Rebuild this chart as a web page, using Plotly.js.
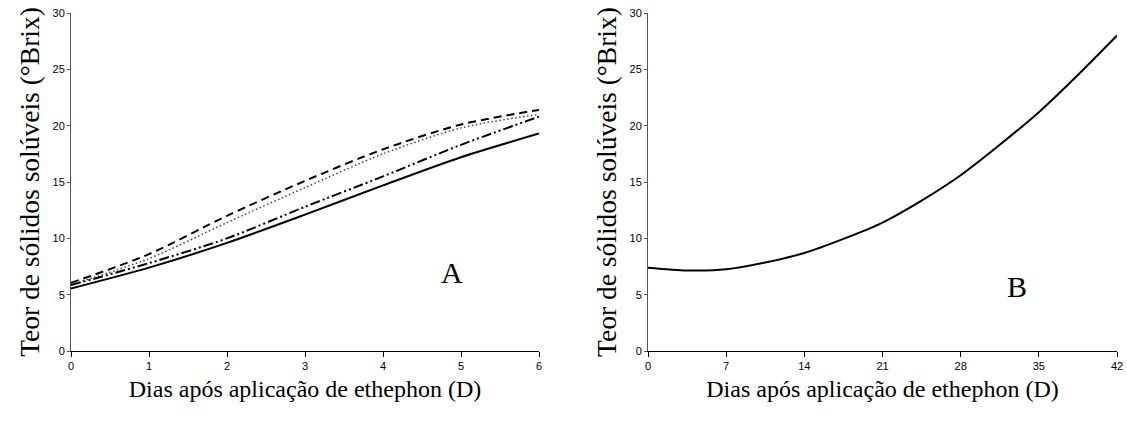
<!DOCTYPE html>
<html>
<head>
<meta charset="utf-8">
<script src="https://cdn.plot.ly/plotly-3.0.1.min.js"></script>
<style>html,body{margin:0;padding:0;background:#fff}#chart{width:1127px;height:421px}</style>
</head>
<body>
<div id="chart"></div>
<script>
// Panel A: days 0..6
const daysA = [0, 1, 2, 3, 4, 5, 6];
const solidA = [5.55, 7.4, 9.6, 12.1, 14.7, 17.2, 19.3];
const dashA = [6.05, 8.6, 12.0, 15.1, 17.9, 20.1, 21.4];
const dotA = [5.9, 8.2, 11.4, 14.5, 17.5, 19.8, 21.0];
const dashDotA = [5.85, 7.8, 10.0, 12.8, 15.5, 18.3, 20.8];

// Panel B: days 0..42
const daysB = [0, 3.5, 7, 10.5, 14, 17.5, 21, 24.5, 28, 31.5, 35, 38.5, 42];
const valsB = [7.4, 7.15, 7.25, 7.85, 8.7, 9.95, 11.4, 13.35, 15.6, 18.3, 21.2, 24.5, 28.0];

const ticksA = [0, 1, 2, 3, 4, 5, 6];
const ticksB = [0, 7, 14, 21, 28, 35, 42];
const ticksY = [0, 5, 10, 15, 20, 25, 30];

const yTitle = 'Teor de sólidos solúveis (°Brix)';
const xTitle = 'Dias após aplicação de ethephon (D)';

const serif = '"Liberation Serif", "Times New Roman", serif';
const sans = '"Liberation Sans", Arial, sans-serif';

function ln(x, y, dash, width, color, xa, ya) {
  return {x: x, y: y, type: 'scatter', mode: 'lines', xaxis: xa, yaxis: ya,
    line: {color: color, width: width, dash: dash, shape: 'spline', smoothing: 0.8}, showlegend: false, hoverinfo: 'skip'};
}

const traces = [
  ln(daysA, dotA, '1.5px,2.5px', 1.5, '#444', 'x', 'y'),
  ln(daysA, dashDotA, '10px,3px,2px,3px,2px,3px', 2, '#000', 'x', 'y'),
  ln(daysA, dashA, '8px,5px', 2, '#000', 'x', 'y'),
  ln(daysA, solidA, 'solid', 2, '#000', 'x', 'y'),
  ln(daysB, valsB, 'solid', 2, '#000', 'x2', 'y2')
];

function xax(domain, ticks, anchor) {
  return {domain: domain, range: [0, ticks[ticks.length - 1]], tickvals: ticks, ticktext: ticks.map(String),
    showgrid: false, zeroline: false, showline: true, linecolor: '#000', linewidth: 1,
    ticks: 'outside', ticklen: 5, tickcolor: '#000', tickfont: {family: sans, size: 11, color: '#000'},
    anchor: anchor, fixedrange: true,
    title: {text: xTitle, font: {family: serif, size: 24, color: '#000'}, standoff: 8}};
}
function yax(domain, anchor) {
  return {domain: domain, range: [0, 30], tickvals: ticksY, ticktext: ticksY.map(String),
    showgrid: false, zeroline: false, showline: true, linecolor: '#555', linewidth: 1,
    ticks: 'outside', ticklen: 3, tickcolor: '#555', tickfont: {family: sans, size: 11, color: '#000'},
    anchor: anchor, fixedrange: true,
    title: {text: yTitle, font: {family: serif, size: 27.5, color: '#000'}, standoff: 4}};
}

const W = 1127;
const layout = {
  width: 1127, height: 421,
  margin: {l: 0, r: 0, t: 13, b: 70},
  paper_bgcolor: '#fff', plot_bgcolor: '#fff',
  xaxis: xax([71 / W, 539 / W], ticksA, 'y'),
  yaxis: yax([0, 1], 'x'),
  xaxis2: xax([648 / W, 1117 / W], ticksB, 'y2'),
  yaxis2: yax([0, 1], 'x2'),
  annotations: [
    {text: 'A', x: 4.88, y: 7.0, xref: 'x', yref: 'y', showarrow: false, font: {family: serif, size: 30, color: '#000'}},
    {text: 'B', x: 33.0, y: 5.7, xref: 'x2', yref: 'y2', showarrow: false, font: {family: serif, size: 30, color: '#000'}}
  ]
};

Plotly.newPlot('chart', traces, layout, {staticPlot: true, displayModeBar: false});
</script>
</body>
</html>
